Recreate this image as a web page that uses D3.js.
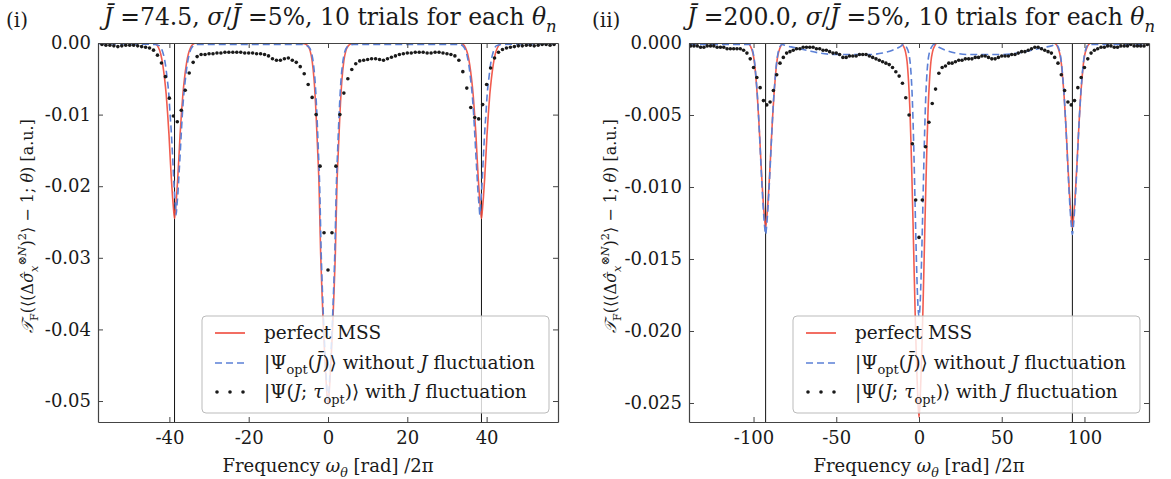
<!DOCTYPE html>
<html>
<head>
<meta charset="utf-8">
<script src="https://cdn.jsdelivr.net/npm/d3@7"></script>
<style>
body{margin:0;background:#fff;}
text{font-family:"DejaVu Serif",serif;fill:#1a1a1a;}
</style>
</head>
<body>
<svg id="fig" width="1171" height="479"></svg>
<script>
// ---- panel (i): J=74.5 ----
var xTicks1 = [-40, -20, 0, 20, 40];
var yTicks1 = [0, -0.01, -0.02, -0.03, -0.04, -0.05];
var peaks1 = [-38.7, 38.7];

// perfect MSS (red)
var red1 = [[-58,0],[-44.2,0],[-43.3,-0.0002],[-42.7,-0.0007],[-42.2,-0.0015],[-41.7,-0.0029],[-41.2,-0.0050],[-40.8,-0.0072],[-40.45,-0.0098],[-40.1,-0.0128],[-39.8,-0.0160],[-39.5,-0.0190],[-39.2,-0.0215],[-38.95,-0.0232],[-38.7,-0.0245],[-38.45,-0.0232],[-38.2,-0.0215],[-37.9,-0.0190],[-37.6,-0.0160],[-37.3,-0.0128],[-36.95,-0.0098],[-36.6,-0.0072],[-36.2,-0.0050],[-35.7,-0.0029],[-35.2,-0.0015],[-34.7,-0.0007],[-34.1,-0.0002],[-33.2,0],
  [-7,0],[-6,-0.0001],[-5.1,-0.0004],[-4.5,-0.0011],[-4,-0.0025],[-3.5,-0.0052],[-3,-0.0100],[-2.65,-0.0145],[-2.25,-0.0200],[-1.85,-0.0295],[-1.5,-0.0350],[-1.2,-0.0392],[-0.9,-0.0428],[-0.6,-0.0460],[-0.3,-0.0488],[0,-0.0505],[0.3,-0.0488],[0.6,-0.0460],[0.9,-0.0428],[1.2,-0.0392],[1.5,-0.0350],[1.85,-0.0295],[2.25,-0.0200],[2.65,-0.0145],[3,-0.0100],[3.5,-0.0052],[4,-0.0025],[4.5,-0.0011],[5.1,-0.0004],[6,-0.0001],[7,0],
  [33.2,0],[34.1,-0.0002],[34.7,-0.0007],[35.2,-0.0015],[35.7,-0.0029],[36.2,-0.0050],[36.6,-0.0072],[36.95,-0.0098],[37.3,-0.0128],[37.6,-0.0160],[37.9,-0.0190],[38.2,-0.0215],[38.45,-0.0232],[38.7,-0.0245],[38.95,-0.0232],[39.2,-0.0215],[39.5,-0.0190],[39.8,-0.0160],[40.1,-0.0128],[40.45,-0.0098],[40.8,-0.0072],[41.2,-0.0050],[41.7,-0.0029],[42.2,-0.0015],[42.7,-0.0007],[43.3,-0.0002],[44.2,0],[58,0]];

// |Psi_opt(Jbar)> without J fluctuation (blue dashed)
var blue1 = [[-58,-0.0001],[-43.8,-0.0002],[-42.4,-0.0004],[-41.9,-0.0009],[-41.45,-0.0017],[-41,-0.0030],[-40.55,-0.0050],[-40.15,-0.0071],[-39.85,-0.0097],[-39.5,-0.0126],[-39.2,-0.0157],[-38.95,-0.0186],[-38.7,-0.0210],[-38.47,-0.0227],[-38.3,-0.0240],[-38.1,-0.0227],[-37.85,-0.0210],[-37.6,-0.0186],[-37.3,-0.0157],[-37,-0.0126],[-36.7,-0.0097],[-36.35,-0.0071],[-35.95,-0.0050],[-35.5,-0.0030],[-35.05,-0.0017],[-34.6,-0.0009],[-34,-0.0004],[-33.2,-0.0002],
  [-6.5,-0.0002],[-5.6,-0.0003],[-4.75,-0.0006],[-4.2,-0.0013],[-3.7,-0.0028],[-3.25,-0.0054],[-2.8,-0.0100],[-2.47,-0.0145],[-2.1,-0.0200],[-1.72,-0.0293],[-1.4,-0.0347],[-1.12,-0.0388],[-0.84,-0.0423],[-0.56,-0.0455],[-0.28,-0.0482],[0,-0.0498],[0.28,-0.0482],[0.56,-0.0455],[0.84,-0.0423],[1.12,-0.0388],[1.4,-0.0347],[1.72,-0.0293],[2.1,-0.0200],[2.47,-0.0145],[2.8,-0.0100],[3.25,-0.0054],[3.7,-0.0028],[4.2,-0.0013],[4.75,-0.0006],[5.6,-0.0003],[6.5,-0.0002],
  [33.2,-0.0002],[34,-0.0004],[34.6,-0.0009],[35.05,-0.0017],[35.5,-0.0030],[35.95,-0.0050],[36.35,-0.0071],[36.7,-0.0097],[37,-0.0126],[37.3,-0.0157],[37.6,-0.0186],[37.85,-0.0210],[38.1,-0.0227],[38.3,-0.0240],[38.47,-0.0227],[38.7,-0.0210],[38.95,-0.0186],[39.2,-0.0157],[39.5,-0.0126],[39.85,-0.0097],[40.15,-0.0071],[40.55,-0.0050],[41,-0.0030],[41.45,-0.0017],[41.9,-0.0009],[42.4,-0.0004],[43.8,-0.0002],[58,-0.0001]];

// |Psi(J;tau_opt)> with J fluctuation (black dots)
var dots1 = [[-57,-0.0002],[-56,-0.0003],[-55,-0.0003],[-54,-0.0004],[-53,-0.0005],[-52,-0.0004],[-51,-0.0003],[-50,-0.0003],[-49,-0.0003],[-48,-0.0004],[-47,-0.0005],[-46,-0.0006],[-45,-0.0007],[-44,-0.0010],[-43,-0.0017],[-42,-0.0028],[-41,-0.0047],[-40,-0.0077],[-39,-0.0102],[-38,-0.0110],[-37,-0.0094],[-36,-0.0066],[-35,-0.0042],[-34,-0.0027],[-33,-0.0019],[-32,-0.0016],[-31,-0.0016],[-30,-0.0015],[-29,-0.0015],[-28,-0.0014],[-27,-0.0014],[-26,-0.0013],[-25,-0.0013],[-24,-0.0013],[-23,-0.0013],[-22,-0.0013],[-21,-0.0014],[-20,-0.0014],[-19,-0.0014],[-18,-0.0015],[-17,-0.0015],[-16,-0.0016],[-15,-0.0018],[-14,-0.0022],[-13,-0.0024],[-12,-0.0024],[-11,-0.0022],[-10,-0.0021],[-9,-0.0024],[-8,-0.0027],[-7,-0.0033],[-6,-0.0043],[-5,-0.0058],[-4,-0.0076],[-3,-0.0100],[-2,-0.0172],[-1,-0.0265],[0,-0.0317],[1,-0.0265],[2,-0.0172],[3,-0.0100],[4,-0.0070],[5,-0.0050],[6,-0.0037],[7,-0.0029],[8,-0.0025],[9,-0.0024],[10,-0.0023],[11,-0.0022],[12,-0.0022],[13,-0.0023],[14,-0.0024],[15,-0.0022],[16,-0.0020],[17,-0.0018],[18,-0.0016],[19,-0.0015],[20,-0.0014],[21,-0.0014],[22,-0.0013],[23,-0.0013],[24,-0.0013],[25,-0.0014],[26,-0.0014],[27,-0.0013],[28,-0.0013],[29,-0.0014],[30,-0.0015],[31,-0.0016],[32,-0.0018],[33,-0.0024],[34,-0.0040],[35,-0.0063],[36,-0.0090],[37,-0.0104],[38,-0.0106],[39,-0.0086],[40,-0.0058],[41,-0.0035],[42,-0.0021],[43,-0.0013],[44,-0.0009],[45,-0.0007],[46,-0.0006],[47,-0.0005],[48,-0.0004],[49,-0.0004],[50,-0.0003],[51,-0.0003],[52,-0.0004],[53,-0.0003],[54,-0.0002],[55,-0.0002],[56,-0.0003],[57,-0.0002]];

// ---- panel (ii): J=200.0 ----
var xTicks2 = [-100, -50, 0, 50, 100];
var yTicks2 = [0, -0.005, -0.010, -0.015, -0.020, -0.025];
var peaks2 = [-92.7, 92.7];

var red2 = [[-139,0],[-104.2,0],[-102.5,-0.0001],[-101.2,-0.0004],[-100.2,-0.0008],[-99.3,-0.0015],[-98.5,-0.0025],[-97.7,-0.0037],[-96.9,-0.0052],[-96.2,-0.0067],[-95.5,-0.0083],[-94.8,-0.0098],[-94.1,-0.0111],[-93.4,-0.0121],[-92.7,-0.0128],[-92,-0.0121],[-91.3,-0.0111],[-90.6,-0.0098],[-89.9,-0.0083],[-89.2,-0.0067],[-88.5,-0.0052],[-87.7,-0.0037],[-86.9,-0.0025],[-86.1,-0.0015],[-85.2,-0.0008],[-84.2,-0.0004],[-82.9,-0.0001],[-81.2,0],
  [-11,0],[-9.5,-0.0002],[-8.2,-0.0006],[-7.2,-0.0013],[-6.3,-0.0027],[-5.5,-0.0046],[-4.8,-0.0071],[-4.2,-0.0097],[-3.6,-0.0125],[-3,-0.0155],[-2.4,-0.0184],[-1.8,-0.0210],[-1.2,-0.0232],[-0.6,-0.0250],[0,-0.0260],[0.6,-0.0250],[1.2,-0.0232],[1.8,-0.0210],[2.4,-0.0184],[3,-0.0155],[3.6,-0.0125],[4.2,-0.0097],[4.8,-0.0071],[5.5,-0.0046],[6.3,-0.0027],[7.2,-0.0013],[8.2,-0.0006],[9.5,-0.0002],[11,0],
  [81.2,0],[82.9,-0.0001],[84.2,-0.0004],[85.2,-0.0008],[86.1,-0.0015],[86.9,-0.0025],[87.7,-0.0037],[88.5,-0.0052],[89.2,-0.0067],[89.9,-0.0083],[90.6,-0.0098],[91.3,-0.0111],[92,-0.0121],[92.7,-0.0128],[93.4,-0.0121],[94.1,-0.0111],[94.8,-0.0098],[95.5,-0.0083],[96.2,-0.0067],[96.9,-0.0052],[97.7,-0.0037],[98.5,-0.0025],[99.3,-0.0015],[100.2,-0.0008],[101.2,-0.0004],[102.5,-0.0001],[104.2,0],[139,0]];

var blue2 = [[-139,-0.0001],[-102.5,-0.0001],[-101.2,-0.0003],[-100.2,-0.0007],[-99.3,-0.0014],[-98.5,-0.0024],[-97.7,-0.0036],[-96.9,-0.0052],[-96.2,-0.0068],[-95.5,-0.0085],[-94.8,-0.0101],[-94.1,-0.0115],[-93.4,-0.0126],[-92.7,-0.0133],[-92,-0.0126],[-91.3,-0.0115],[-90.6,-0.0101],[-89.9,-0.0085],[-89.2,-0.0068],[-88.5,-0.0052],[-87.7,-0.0036],[-86.9,-0.0024],[-86.1,-0.0014],[-85.2,-0.0007],[-84.2,-0.0003],[-82.9,-0.0001],
  [-80,-0.0002],[-76,-0.0003],[-68,-0.0005],[-60,-0.0007],[-50,-0.0008],[-40,-0.0008],[-30,-0.0008],[-22,-0.0007],[-16,-0.0005],[-12,-0.0003],
  [-9,-0.0001],[-7.5,-0.0003],[-6.2,-0.0007],[-5.3,-0.0014],[-4.6,-0.0025],[-4,-0.0040],[-3.5,-0.0058],[-3,-0.0080],[-2.5,-0.0105],[-2,-0.0130],[-1.5,-0.0153],[-1,-0.0172],[-0.5,-0.0185],[0,-0.0190],[0.5,-0.0185],[1,-0.0172],[1.5,-0.0153],[2,-0.0130],[2.5,-0.0105],[3,-0.0080],[3.5,-0.0058],[4,-0.0040],[4.6,-0.0025],[5.3,-0.0014],[6.2,-0.0007],[7.5,-0.0003],[9,-0.0001],
  [12,-0.0003],[16,-0.0005],[22,-0.0007],[30,-0.0008],[40,-0.0008],[50,-0.0008],[60,-0.0007],[68,-0.0005],[76,-0.0003],[80,-0.0002],
  [82.9,-0.0001],[84.2,-0.0003],[85.2,-0.0007],[86.1,-0.0014],[86.9,-0.0024],[87.7,-0.0036],[88.5,-0.0052],[89.2,-0.0068],[89.9,-0.0085],[90.6,-0.0101],[91.3,-0.0115],[92,-0.0126],[92.7,-0.0133],[93.4,-0.0126],[94.1,-0.0115],[94.8,-0.0101],[95.5,-0.0085],[96.2,-0.0068],[96.9,-0.0052],[97.7,-0.0036],[98.5,-0.0024],[99.3,-0.0014],[100.2,-0.0007],[101.2,-0.0003],[102.5,-0.0001],[139,-0.0001]];

var dots2 = [[-138,-0.0002],[-136,-0.0002],[-134,-0.0002],[-132,-0.0003],[-130,-0.0003],[-128,-0.0002],[-126,-0.0002],[-124,-0.0002],[-122,-0.0003],[-120,-0.0003],[-118,-0.0003],[-116,-0.0004],[-114,-0.0004],[-112,-0.0004],[-110,-0.0004],[-108,-0.0004],[-106,-0.0005],[-104,-0.0007],[-102,-0.0011],[-100,-0.0017],[-98,-0.0024],[-96,-0.0031],[-94,-0.0040],[-92,-0.0043],[-90,-0.0041],[-88,-0.0033],[-86,-0.0022],[-84,-0.0014],[-82,-0.0010],[-80,-0.0007],[-78,-0.0006],[-76,-0.0005],[-74,-0.0004],[-72,-0.0004],[-70,-0.0003],[-68,-0.0003],[-66,-0.0003],[-64,-0.0003],[-62,-0.0004],[-60,-0.0004],[-58,-0.0005],[-56,-0.0005],[-54,-0.0006],[-52,-0.0007],[-50,-0.0007],[-48,-0.0008],[-46,-0.0010],[-44,-0.0010],[-42,-0.0009],[-40,-0.0009],[-38,-0.0009],[-36,-0.0008],[-34,-0.0008],[-32,-0.0008],[-30,-0.0009],[-28,-0.0010],[-26,-0.0011],[-24,-0.0012],[-22,-0.0013],[-20,-0.0014],[-18,-0.0015],[-16,-0.0017],[-14,-0.0020],[-12,-0.0023],[-10,-0.0028],[-8,-0.0038],[-6,-0.0050],[-4,-0.0070],[-2,-0.0109],[0,-0.0135],[2,-0.0109],[4,-0.0072],[6,-0.0055],[8,-0.0042],[10,-0.0032],[12,-0.0021],[14,-0.0017],[16,-0.0016],[18,-0.0014],[20,-0.0014],[22,-0.0013],[24,-0.0012],[26,-0.0012],[28,-0.0011],[30,-0.0011],[32,-0.0011],[34,-0.0010],[36,-0.0010],[38,-0.0009],[40,-0.0009],[42,-0.0010],[44,-0.0011],[46,-0.0011],[48,-0.0010],[50,-0.0009],[52,-0.0009],[54,-0.0009],[56,-0.0008],[58,-0.0008],[60,-0.0007],[62,-0.0006],[64,-0.0006],[66,-0.0005],[68,-0.0004],[70,-0.0003],[72,-0.0003],[74,-0.0004],[76,-0.0005],[78,-0.0006],[80,-0.0007],[82,-0.0010],[84,-0.0014],[86,-0.0022],[88,-0.0033],[90,-0.0041],[92,-0.0043],[94,-0.0040],[96,-0.0031],[98,-0.0024],[100,-0.0017],[102,-0.0011],[104,-0.0007],[106,-0.0005],[108,-0.0004],[110,-0.0003],[112,-0.0003],[114,-0.0002],[116,-0.0002],[118,-0.0003],[120,-0.0003],[122,-0.0002],[124,-0.0002],[126,-0.0002],[128,-0.0001],[130,-0.0002],[132,-0.0002],[134,-0.0002],[136,-0.0002],[138,-0.0001]];

var RED = "#ef4a3c", BLUE = "#5b80d6", DOT = "#1a1a1a";

var svg = d3.select("#fig");

// text with italic / sub / sup pieces: [string, flags]
function rich(t, parts, size){
    var shift = 0;
    parts.forEach(function(p){
        var f = p[1] || "";
        var ts = t.append("tspan").text(p[0]);
        var target = f.indexOf("s")>=0 ? size*0.3 : (f.indexOf("p")>=0 ? -size*0.42 : 0);
        if(target!==shift){ ts.attr("dy", target-shift); shift = target; }
        if(f.indexOf("i")>=0) ts.attr("font-style","italic");
        if(target!==0) ts.attr("font-size", size*0.7);
    });
}

function panel(c){
    var top = 43, bottom = 422;
    var x = d3.scaleLinear().domain(c.xDom).range([c.left, c.left+460]);
    var y = d3.scaleLinear().domain(c.yDom).range([bottom, top]);
    var g = svg.append("g");

    g.append("clipPath").attr("id","clip"+c.id)
      .append("rect").attr("x",c.left).attr("y",top).attr("width",460).attr("height",bottom-top);

    var plot = g.append("g").attr("clip-path","url(#clip"+c.id+")");

    // vertical lines at the side peaks
    c.peaks.forEach(function(p){
        plot.append("line")
          .attr("x1",x(p)).attr("x2",x(p)).attr("y1",top).attr("y2",bottom)
          .attr("stroke","#111").attr("stroke-width",1);
    });

    var line = d3.line().x(function(d){return x(d[0]);}).y(function(d){return y(d[1]);}).curve(d3.curveMonotoneX);

    plot.append("path").datum(c.red).attr("d",line)
      .attr("fill","none").attr("stroke",RED).attr("stroke-width",1.6).attr("stroke-opacity",0.9);
    plot.append("path").datum(c.blue).attr("d",line)
      .attr("fill","none").attr("stroke",BLUE).attr("stroke-width",1.6).attr("stroke-dasharray","7,4");
    plot.selectAll("circle.dot").data(c.dots).enter().append("circle")
      .attr("class","dot")
      .attr("cx",function(d){return x(d[0]);}).attr("cy",function(d){return y(d[1]);})
      .attr("r",1.8).attr("fill",DOT);

    // axes, ticks pointing inward on all sides
    var axB = g.append("g").attr("transform","translate(0,"+bottom+")")
      .call(d3.axisBottom(x).tickValues(c.xTicks).tickSize(-5).tickSizeOuter(0).tickPadding(9).tickFormat(function(d){return String(d);}));
    var axT = g.append("g").attr("transform","translate(0,"+top+")")
      .call(d3.axisTop(x).tickValues(c.xTicks).tickSize(-5).tickSizeOuter(0).tickFormat(""));
    var axL = g.append("g").attr("transform","translate("+c.left+",0)")
      .call(d3.axisLeft(y).tickValues(c.yTicks).tickSize(-5).tickSizeOuter(0).tickPadding(7).tickFormat(c.fmt));
    var axR = g.append("g").attr("transform","translate("+(c.left+460)+",0)")
      .call(d3.axisRight(y).tickValues(c.yTicks).tickSize(-5).tickSizeOuter(0).tickFormat(""));
    [axB,axT,axL,axR].forEach(function(a){
        a.attr("font-family",null).attr("font-size",null);
        a.select(".domain").attr("stroke","#444").attr("stroke-width",1.2);
        a.selectAll(".tick line").attr("stroke","#444");
        a.selectAll("text").attr("font-size",18).attr("fill","#1a1a1a");
    });

    // title and panel tag
    var tt = g.append("text").attr("x",c.titleX).attr("y",25).attr("text-anchor","middle").attr("font-size",23.5);
    rich(tt, c.title, 23.5);
    g.append("text").attr("x",c.tagX).attr("y",27).attr("font-size",20).text(c.tag);

    // x label
    var xl = g.append("text").attr("x",c.left+230).attr("y",472).attr("text-anchor","middle").attr("font-size",18);
    rich(xl, [["Frequency "],["ω","i"],["θ","is"],[" [rad] /2π"]], 18);

    // y label
    var yl = g.append("text").attr("transform","translate("+c.ylx+",226) rotate(-90)")
      .attr("text-anchor","middle").attr("font-size",16);
    rich(yl, [["𝒯","i"],["F","s"],["(⟨(Δ"],["σ̂","i"],["x","is"],["⊗N","ip"],[")"],["2","p"],["⟩ − 1; "],["θ","i"],[") [a.u.]"]], 16);

    // legend
    var lg = g.append("g").attr("transform","translate("+c.legX+",316)");
    lg.append("rect").attr("width",347).attr("height",97).attr("rx",4)
      .attr("fill","#fff").attr("fill-opacity",0.8).attr("stroke","#bbb").attr("stroke-width",1);
    lg.append("line").attr("x1",13).attr("x2",43).attr("y1",17).attr("y2",17)
      .attr("stroke",RED).attr("stroke-width",1.6);
    lg.append("line").attr("x1",13).attr("x2",43).attr("y1",47).attr("y2",47)
      .attr("stroke",BLUE).attr("stroke-width",1.6).attr("stroke-dasharray","7,4");
    [15,28,41].forEach(function(px){
        lg.append("circle").attr("cx",px).attr("cy",76).attr("r",1.8).attr("fill",DOT);
    });
    var rows = [
        [["perfect MSS"]],
        [["|Ψ"],["opt","s"],["("],["J̄","i"],[")⟩ without "],["J","i"],[" fluctuation"]],
        [["|Ψ("],["J","i"],["; "],["τ","i"],["opt","s"],[")⟩ with "],["J","i"],[" fluctuation"]]
    ];
    rows.forEach(function(r,i){
        var t = lg.append("text").attr("x",62).attr("y",23+i*29.5).attr("font-size",18.5);
        rich(t, r, 18.5);
    });
}

panel({id:1, left:98, xDom:[-58,58], yDom:[-0.05293,0], xTicks:xTicks1, yTicks:yTicks1,
    fmt:function(d){return d.toFixed(2);}, peaks:peaks1, red:red1, blue:blue1, dots:dots1,
    title:[["J̄","i"],[" =74.5, "],["σ","i"],["/"],["J̄","i"],[" =5%, 10 trials for each "],["θ","i"],["n","is"]],
    titleX:330, tag:"(i)", tagX:6, ylx:33, legX:202});

panel({id:2, left:689, xDom:[-139,139], yDom:[-0.02632,0], xTicks:xTicks2, yTicks:yTicks2,
    fmt:function(d){return d.toFixed(3);}, peaks:peaks2, red:red2, blue:blue2, dots:dots2,
    title:[["J̄","i"],[" =200.0, "],["σ","i"],["/"],["J̄","i"],[" =5%, 10 trials for each "],["θ","i"],["n","is"]],
    titleX:921, tag:"(ii)", tagX:592, ylx:616, legX:793});
</script>
</body>
</html>
